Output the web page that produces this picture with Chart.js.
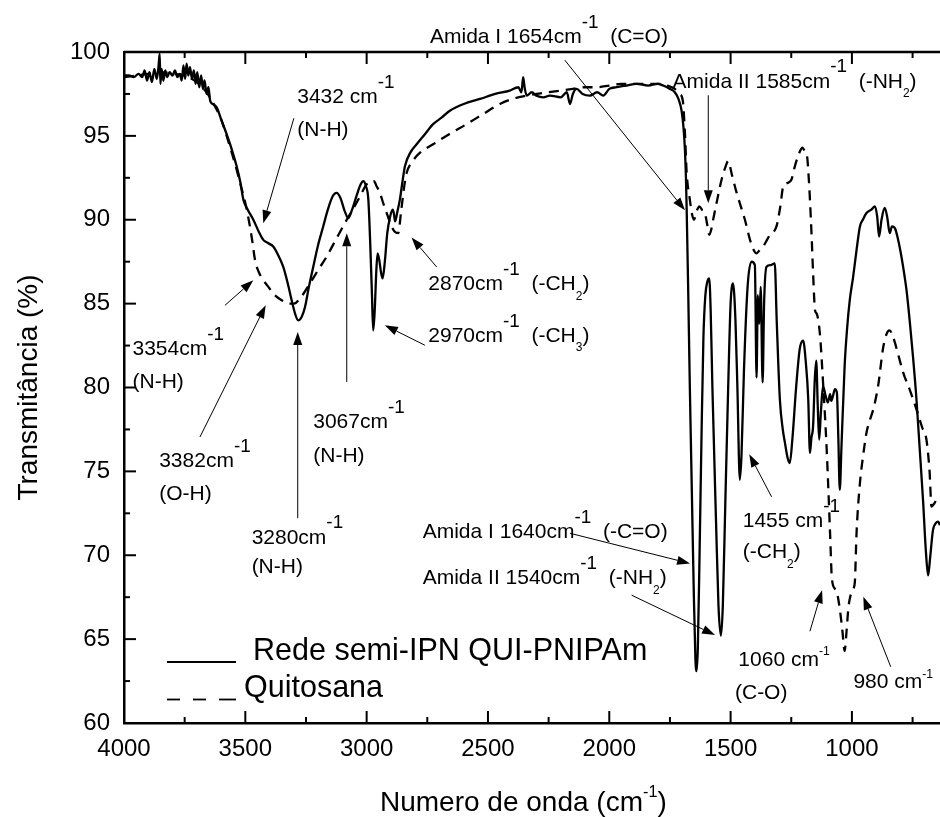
<!DOCTYPE html>
<html>
<head>
<meta charset="utf-8">
<script src="https://cdn.jsdelivr.net/npm/chart.js@4.4.0/dist/chart.umd.min.js"></script>
<style>
  html, body { margin: 0; padding: 0; background: #fff; }
  #wrap { width: 940px; height: 817px; }
</style>
</head>
<body>
<div id="wrap"><canvas id="ftir" width="940" height="817"></canvas></div>
<script>
const FONT = "'Liberation Sans', Arial, sans-serif";

// eixos
const xTicks = [4000, 3500, 3000, 2500, 2000, 1500, 1000];
const yTicks = [60, 65, 70, 75, 80, 85, 90, 95, 100];
const xMin = 637, xMax = 4000;

// Rede semi-IPN QUI-PNIPAm  [numero de onda, transmitancia]
const semiIpn = [
  [4000,98.6],[3980,98.6],[3960,98.5],[3940,98.7],[3925,98.5],[3915,98.9],[3905,98.3],[3895,98.8],
  [3885,98.2],[3875,99.0],[3865,98.4],[3858,99.1],[3853,99.9],[3850,98.1],[3845,99.0],[3838,98.3],
  [3830,98.9],[3822,98.5],[3812,98.8],[3800,98.6],[3790,98.9],[3780,98.5],[3770,98.7],[3762,98.3],
  [3755,99.2],[3748,98.4],[3742,99.3],[3735,98.6],[3728,99.1],[3720,98.4],[3712,98.9],[3705,98.1],
  [3698,98.8],[3690,97.9],[3682,98.6],[3675,97.8],[3668,98.3],[3660,97.5],[3652,97.9],[3645,97.1],
  [3635,96.9],[3618,96.7],[3600,96.0],[3577,95.1],[3556,94.2],[3536,93.2],[3520,92.2],[3508,91.2],
  [3490,90.6],[3467,90.0],[3445,89.3],[3426,88.8],[3405,88.6],[3385,88.4],[3365,87.9],[3344,87.2],
  [3325,86.2],[3309,85.2],[3295,84.4],[3282,84.0],[3268,84.2],[3254,84.8],[3238,86.0],[3220,87.2],
  [3200,88.5],[3179,89.6],[3160,90.6],[3140,91.4],[3124,91.6],[3108,91.3],[3090,90.5],[3076,90.1],
  [3060,90.6],[3040,91.5],[3025,92.1],[3014,92.3],[3003,92.0],[2993,91.2],[2985,88.5],[2978,85.5],
  [2973,83.4],[2967,84.5],[2960,87.0],[2955,88.0],[2948,87.6],[2940,86.8],[2934,86.5],[2925,87.5],
  [2915,89.2],[2903,90.2],[2893,90.6],[2888,90.4],[2883,89.9],[2873,90.5],[2863,91.2],[2852,92.3],
  [2842,93.2],[2820,94.0],[2794,94.5],[2760,95.1],[2726,95.7],[2690,96.1],[2657,96.5],[2600,96.9],
  [2533,97.2],[2470,97.5],[2410,97.7],[2375,97.9],[2362,97.6],[2355,98.5],[2348,97.8],[2340,97.4],
  [2320,97.6],[2300,97.4],[2272,97.3],[2245,97.4],[2200,97.3],[2175,97.6],[2162,96.9],[2150,97.5],
  [2135,97.8],[2110,97.5],[2080,97.4],[2050,97.6],[2025,97.4],[2000,97.8],[1970,97.9],[1930,98.0],
  [1888,98.1],[1840,98.0],[1800,98.1],[1778,98.0],[1750,97.8],[1730,97.6],[1715,97.2],[1702,96.5],
  [1693,95.3],[1688,94.1],[1684,92.5],[1681,90.6],[1675,86.0],[1668,80.0],[1660,74.0],[1652,68.0],
  [1645,63.8],[1640,63.1],[1635,64.5],[1628,70.0],[1620,77.0],[1612,83.0],[1604,85.5],[1596,86.3],
  [1588,86.5],[1582,84.5],[1575,80.0],[1560,72.0],[1550,67.0],[1540,65.2],[1532,67.0],[1522,73.0],
  [1510,80.0],[1500,85.0],[1490,86.2],[1480,84.0],[1472,80.0],[1462,74.5],[1455,76.0],[1445,81.0],
  [1430,86.0],[1414,87.5],[1400,87.3],[1393,80.6],[1388,85.5],[1382,83.8],[1376,86.0],[1368,80.3],
  [1362,85.0],[1352,87.2],[1335,87.3],[1318,87.4],[1310,84.0],[1297,79.3],[1285,77.5],[1276,76.7],
  [1265,75.8],[1256,75.5],[1245,77.0],[1230,80.0],[1215,82.3],[1201,82.8],[1190,81.5],[1180,79.3],
  [1173,76.1],[1167,77.0],[1160,77.7],[1153,80.5],[1147,81.6],[1141,79.0],[1135,76.9],[1128,78.5],
  [1119,80.1],[1110,79.6],[1099,79.1],[1090,79.6],[1085,79.2],[1078,79.5],[1070,79.9],[1062,79.7],
  [1056,77.0],[1050,73.9],[1043,76.5],[1030,81.3],[1020,83.5],[1009,85.2],[995,86.6],[980,88.3],
  [967,89.6],[955,90.0],[940,90.4],[920,90.6],[905,90.8],[896,90.2],[888,89.0],[878,90.0],
  [865,90.7],[855,90.2],[844,89.2],[835,89.6],[823,89.5],[805,88.5],[789,87.2],[775,85.8],
  [762,84.0],[748,81.8],[734,79.3],[720,76.2],[707,73.3],[695,70.2],[686,68.8],[678,69.8],
  [666,71.5],[655,71.9],[645,72.0],[637,71.8]
];

// Quitosana
const quitosana = [
  [4000,98.5],[3950,98.6],[3900,98.7],[3850,98.8],[3800,98.7],[3750,98.6],[3700,98.2],[3660,97.6],
  [3630,96.9],[3600,96.0],[3577,95.0],[3556,94.0],[3536,93.0],[3518,92.0],[3500,91.0],[3481,89.6],
  [3470,88.6],[3460,87.6],[3445,86.9],[3426,86.4],[3405,86.0],[3385,85.6],[3350,85.2],[3320,85.0],
  [3300,85.0],[3270,85.4],[3234,86.2],[3200,87.0],[3165,87.8],[3120,89.0],[3082,90.0],[3050,90.8],
  [3027,91.4],[3005,92.0],[2986,92.3],[2970,92.3],[2959,92.0],[2945,91.6],[2932,91.0],[2915,90.3],
  [2900,89.7],[2885,89.3],[2870,89.2],[2858,90.5],[2845,92.0],[2835,92.8],[2810,93.5],[2780,94.0],
  [2726,94.5],[2660,95.1],[2588,95.7],[2520,96.3],[2451,96.9],[2400,97.2],[2340,97.4],[2300,97.5],
  [2250,97.6],[2200,97.7],[2150,97.8],[2100,97.9],[2050,97.9],[2000,98.0],[1950,98.1],[1900,98.1],
  [1850,98.1],[1800,98.1],[1760,98.0],[1730,97.8],[1710,97.5],[1697,97.1],[1688,95.1],[1681,92.8],
  [1668,91.2],[1660,90.4],[1651,90.0],[1640,90.5],[1629,90.8],[1618,90.6],[1606,90.4],[1595,89.6],
  [1588,89.1],[1580,89.4],[1572,90.0],[1555,91.2],[1537,92.4],[1520,93.2],[1510,93.5],[1495,92.7],
  [1475,91.6],[1458,90.8],[1441,90.0],[1420,88.8],[1405,88.2],[1393,88.0],[1380,88.2],[1366,88.4],
  [1350,88.8],[1338,89.1],[1311,89.6],[1295,90.8],[1283,92.0],[1265,92.2],[1249,92.4],[1235,93.2],
  [1222,93.8],[1210,94.2],[1204,94.3],[1195,94.1],[1185,93.8],[1178,92.5],[1173,91.2],[1166,89.0],
  [1160,86.8],[1152,84.6],[1145,84.4],[1132,83.2],[1119,80.3],[1104,76.3],[1090,71.3],[1083,68.7],
  [1070,68.0],[1062,67.8],[1050,66.8],[1040,65.6],[1030,64.3],[1022,65.5],[1015,66.8],[1009,67.4],
  [995,68.0],[988,68.4],[981,71.3],[967,74.3],[955,75.8],[940,77.3],[925,78.1],[912,78.7],
  [892,80.1],[871,82.4],[857,83.2],[845,83.4],[830,83.0],[810,82.0],[789,80.9],[760,79.8],
  [734,78.7],[710,77.6],[693,76.9],[680,75.0],[672,72.9],[660,73.1],[652,73.3],[640,73.5]
];

// anotacoes (posicao em unidades dos eixos: numero de onda, transmitancia)
const labels = [
  { at: [2739, 100.54], parts: ['Amida I 1654cm', ['-1', 'sup'], '  (C=O)'] },
  { at: [1739, 97.88], parts: ['Amida II 1585cm', ['-1', 'sup'], '  (-NH', ['2', 'sub'], ')'] },
  { at: [3286, 96.94], parts: ['3432 cm', ['-1', 'sup']] },
  { at: [3286, 94.98], parts: ['(N-H)'] },
  { at: [2746, 85.80], parts: ['2870cm', ['-1', 'sup'], '  (-CH', ['2', 'sub'], ')'] },
  { at: [2746, 82.72], parts: ['2970cm', ['-1', 'sup'], '  (-CH', ['3', 'sub'], ')'] },
  { at: [3965, 81.92], parts: ['3354cm', ['-1', 'sup']] },
  { at: [3965, 79.96], parts: ['(N-H)'] },
  { at: [3855, 75.27], parts: ['3382cm', ['-1', 'sup']] },
  { at: [3855, 73.28], parts: ['(O-H)'] },
  { at: [3474, 70.70], parts: ['3280cm', ['-1', 'sup']] },
  { at: [3474, 68.93], parts: ['(N-H)'] },
  { at: [3220, 77.57], parts: ['3067cm', ['-1', 'sup']] },
  { at: [3220, 75.56], parts: ['(N-H)'] },
  { at: [2769, 71.00], parts: ['Amida I 1640cm', ['-1', 'sup'], '  (-C=O)'] },
  { at: [2769, 68.28], parts: ['Amida II 1540cm', ['-1', 'sup'], '  (-NH', ['2', 'sub'], ')'] },
  { at: [1450, 71.69], parts: ['1455 cm', ['-1', 'sup']] },
  { at: [1450, 69.82], parts: ['(-CH', ['2', 'sub'], ')'] },
  { at: [1468, 63.40], parts: ['1060 cm', ['-1', 'tiny']] },
  { at: [1482, 61.42], parts: ['(C-O)'] },
  { at: [994, 62.06], parts: ['980 cm', ['-1', 'tiny']] }
];

const arrows = [
  [[2183, 99.51], [1688, 90.56]],
  [[1592, 97.42], [1592, 90.98]],
  [[3300, 96.05], [3426, 89.79]],
  [[2711, 87.18], [2815, 88.94]],
  [[2760, 82.52], [2925, 83.71]],
  [[3584, 84.90], [3467, 86.39]],
  [[3687, 77.05], [3416, 84.90]],
  [[3284, 72.21], [3284, 83.31]],
  [[3082, 80.33], [3082, 89.19]],
  [[2162, 71.31], [1667, 69.51]],
  [[1908, 67.62], [1564, 65.24]],
  [[1331, 73.48], [1423, 76.02]],
  [[1173, 65.47], [1123, 67.92]],
  [[840, 63.35], [953, 67.52]]
];

function drawParts(ctx, x, y, parts, size) {
  let cx = x;
  parts.forEach(p => {
    const txt = Array.isArray(p) ? p[0] : p;
    const kind = Array.isArray(p) ? p[1] : '';
    let fs = size, dy = 0;
    if (kind === 'sup') { fs = size * 0.9; dy = -0.72 * size; }
    if (kind === 'tiny') { fs = size * 0.58; dy = -0.5 * size; }
    if (kind === 'sub') { fs = size * 0.57; dy = 0.45 * size; }
    ctx.font = fs + 'px ' + FONT;
    ctx.fillText(txt, cx, y + dy);
    cx += ctx.measureText(txt).width;
  });
}

function line(ctx, x1, y1, x2, y2) {
  ctx.beginPath();
  ctx.moveTo(x1, y1);
  ctx.lineTo(x2, y2);
  ctx.stroke();
}

function arrow(ctx, x1, y1, x2, y2) {
  const a = Math.atan2(y2 - y1, x2 - x1);
  const len = 13, hw = 4.5;
  const bx = x2 - len * Math.cos(a), by = y2 - len * Math.sin(a);
  ctx.lineWidth = 1;
  line(ctx, x1, y1, bx, by);
  ctx.beginPath();
  ctx.moveTo(x2, y2);
  ctx.lineTo(bx + hw * Math.sin(a), by - hw * Math.cos(a));
  ctx.lineTo(bx - hw * Math.sin(a), by + hw * Math.cos(a));
  ctx.closePath();
  ctx.fill();
}

const decor = {
  id: 'decor',
  afterDraw(chart) {
    const ctx = chart.ctx;
    const ca = chart.chartArea;
    const xs = chart.scales.x, ys = chart.scales.y;
    ctx.save();
    ctx.strokeStyle = '#000';
    ctx.fillStyle = '#000';

    // moldura superior
    ctx.lineWidth = 2.5;
    line(ctx, ca.left, ca.top, ca.right, ca.top);

    // marcas para dentro
    ctx.lineWidth = 2;
    xTicks.forEach(v => {
      const px = xs.getPixelForValue(v);
      line(ctx, px, ca.bottom, px, ca.bottom - 12);
      line(ctx, px, ca.top, px, ca.top + 12);
      const m = v - 250;
      if (m > xMin) {
        const pm = xs.getPixelForValue(m);
        line(ctx, pm, ca.bottom, pm, ca.bottom - 6);
        line(ctx, pm, ca.top, pm, ca.top + 6);
      }
    });
    yTicks.forEach(v => {
      const py = ys.getPixelForValue(v);
      line(ctx, ca.left, py, ca.left + 12, py);
      if (v > 60) {
        const pm = ys.getPixelForValue(v - 2.5);
        line(ctx, ca.left, pm, ca.left + 6, pm);
      }
    });

    // anotacoes
    ctx.textBaseline = 'alphabetic';
    ctx.textAlign = 'left';
    labels.forEach(l => {
      drawParts(ctx, xs.getPixelForValue(l.at[0]), ys.getPixelForValue(l.at[1]), l.parts, 21);
    });
    arrows.forEach(a => {
      arrow(ctx, xs.getPixelForValue(a[0][0]), ys.getPixelForValue(a[0][1]),
                 xs.getPixelForValue(a[1][0]), ys.getPixelForValue(a[1][1]));
    });

    // legenda
    const lx = ca.left + 43;
    ctx.lineWidth = 1.8;
    line(ctx, lx, ca.bottom - 61, lx + 69, ca.bottom - 61);
    [[0, 13], [26, 39], [52, 69]].forEach(d => line(ctx, lx + d[0], ca.bottom - 23.5, lx + d[1], ca.bottom - 23.5));
    ctx.font = '30.5px ' + FONT;
    ctx.fillText('Rede semi-IPN QUI-PNIPAm', lx + 86, ca.bottom - 63.5);
    ctx.fillText('Quitosana', lx + 77, ca.bottom - 26);

    // titulos dos eixos
    drawParts(ctx, 380, 811, ['Numero de onda (cm', ['-1', 'tiny'], ')'], 28);
    ctx.save();
    ctx.translate(37, (ca.top + ca.bottom) / 2);
    ctx.rotate(-Math.PI / 2);
    ctx.textAlign = 'center';
    ctx.font = '28px ' + FONT;
    ctx.fillText('Transmitância (%)', 0, 0);
    ctx.restore();

    ctx.restore();
  }
};

new Chart(document.getElementById('ftir'), {
  type: 'line',
  data: {
    datasets: [
      {
        label: 'Rede semi-IPN QUI-PNIPAm',
        data: semiIpn.map(p => ({ x: p[0], y: p[1] })),
        borderColor: '#000',
        borderWidth: 2.3,
        pointRadius: 0,
        cubicInterpolationMode: 'monotone'
      },
      {
        label: 'Quitosana',
        data: quitosana.map(p => ({ x: p[0], y: p[1] })),
        borderColor: '#000',
        borderWidth: 2.3,
        borderDash: [10, 7],
        pointRadius: 0,
        cubicInterpolationMode: 'monotone'
      }
    ]
  },
  options: {
    responsive: false,
    animation: false,
    layout: { padding: { top: 52, right: 0, left: 0, bottom: 0 } },
    plugins: { legend: { display: false }, tooltip: { enabled: false } },
    scales: {
      x: {
        type: 'linear',
        reverse: true,
        min: xMin,
        max: xMax,
        afterBuildTicks: s => { s.ticks = xTicks.map(v => ({ value: v })); },
        afterFit: s => { s.height = 94; },
        grid: { display: false, drawTicks: false },
        border: { display: true, color: '#000', width: 2.5 },
        ticks: {
          color: '#000', font: { family: FONT, size: 24 }, padding: 12, maxRotation: 0, autoSkip: false,
          callback: v => String(v)
        }
      },
      y: {
        min: 60,
        max: 100,
        afterBuildTicks: s => { s.ticks = yTicks.map(v => ({ value: v })); },
        afterFit: s => { s.width = 124; },
        grid: { display: false, drawTicks: false },
        border: { display: true, color: '#000', width: 2.5 },
        ticks: { color: '#000', font: { family: FONT, size: 24 }, padding: 14, callback: v => String(v) }
      }
    }
  },
  plugins: [decor]
});
</script>
</body>
</html>
